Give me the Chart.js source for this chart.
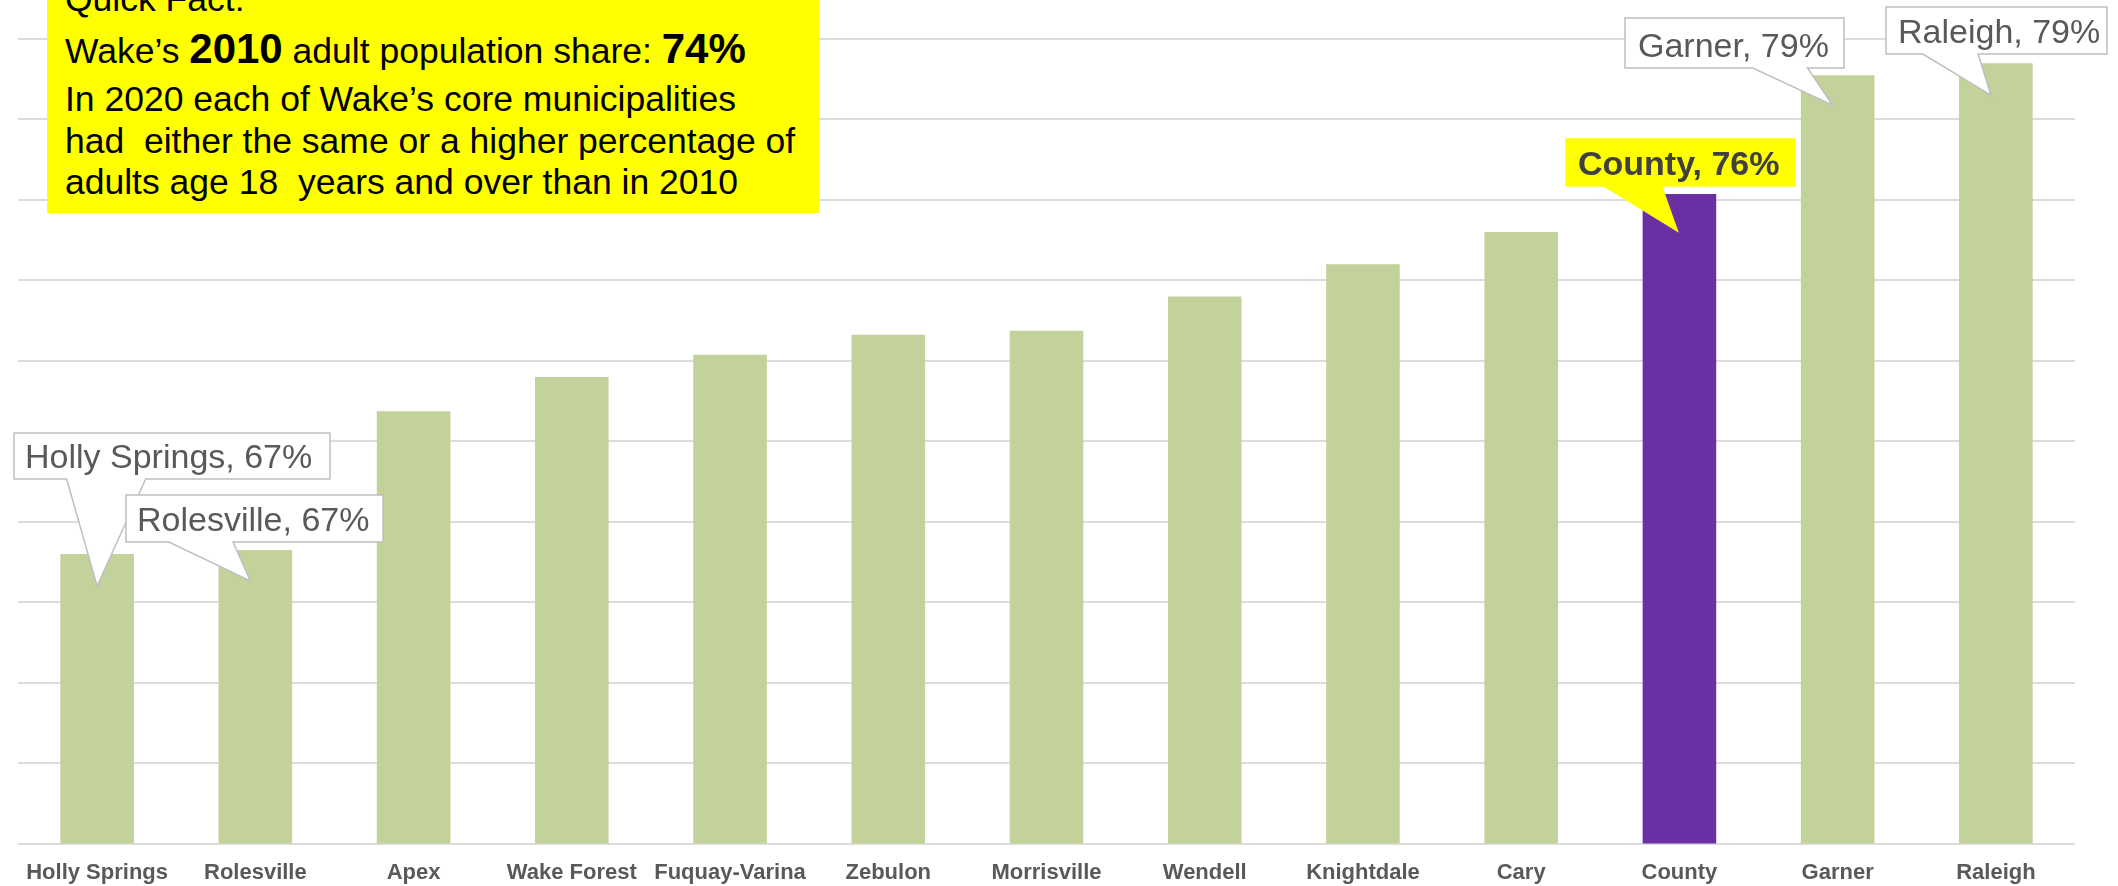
<!DOCTYPE html>
<html>
<head>
<meta charset="utf-8">
<script src="https://cdn.jsdelivr.net/npm/chart.js@4"></script>
<style>
html,body{margin:0;padding:0;background:#fff;}
#wrap{position:relative;width:2118px;height:886px;overflow:hidden;background:#fff;}
#c{position:absolute;left:0;top:0;}
#fact{position:absolute;left:0;top:0;}
</style>
</head>
<body>
<div id="wrap">
<canvas id="c" width="2118" height="886"></canvas>
<svg id="fact" width="2118" height="886" xmlns="http://www.w3.org/2000/svg" font-family="'Liberation Sans', Arial, sans-serif">
  <rect x="47" y="-40" width="772" height="253" fill="#ffff00"/>
  <text x="65" y="11" font-size="35.5" fill="#000">Quick Fact:</text>
  <text x="65" y="63" font-size="35.5" fill="#000">Wake’s <tspan font-weight="bold" font-size="42">2010</tspan> adult population share: <tspan font-weight="bold" font-size="42">74%</tspan></text>
  <text x="65" y="111" font-size="35.5" fill="#000">In 2020 each of Wake’s core municipalities</text>
  <text x="65" y="153" font-size="35.5" fill="#000">had&#160; either the same or a higher percentage of</text>
  <text x="65" y="194" font-size="35.5" fill="#000">adults age 18&#160; years and over than in 2010</text>
</svg>
</div>
<script>
// ---- data ----
const categories = ['Holly Springs','Rolesville','Apex','Wake Forest','Fuquay-Varina','Zebulon','Morrisville','Wendell','Knightdale','Cary','County','Garner','Raleigh'];
const adultShare2020 = [67.2, 67.3, 70.75, 71.6, 72.15, 72.65, 72.75, 73.6, 74.4, 75.2, 76.15, 79.1, 79.4];
const highlightCategory = 'County';
const calloutCategories = ['Holly Springs','Rolesville','County','Garner','Raleigh'];
const yAxisMin = 60, yAxisMax = 80, yAxisStep = 2;

// ---- styling / layout ----
const GREEN = '#c3d19a';
const PURPLE = '#6a2fa2';
const FONT = "'Liberation Sans', Arial, sans-serif";

const calloutLayout = {
  'Holly Springs': {box:[14,433,316,46], dx:0,  dy:32, textX:25,  fill:'#ffffff', stroke:'#bfbfbf', color:'#595959', bold:false},
  'Rolesville':    {box:[126,495,257,47], dx:-5, dy:31, textX:137, fill:'#ffffff', stroke:'#bfbfbf', color:'#595959', bold:false},
  'County':        {box:[1566,139,229,47], dx:-2, dy:37, textX:1578, fill:'#ffff00', stroke:'#ffff00', color:'#404040', bold:true},
  'Garner':        {box:[1625,18,219,50], dx:-5, dy:30, textX:1638, fill:'#ffffff', stroke:'#bfbfbf', color:'#595959', bold:false},
  'Raleigh':       {box:[1886,7,221,47], dx:-5, dy:32, textX:1898, fill:'#ffffff', stroke:'#bfbfbf', color:'#595959', bold:false}
};

const calloutPlugin = {
  id: 'callouts',
  afterDatasetsDraw(chart) {
    const ctx = chart.ctx;
    const meta = chart.getDatasetMeta(0);
    calloutCategories.forEach(cat => {
      const i = categories.indexOf(cat);
      const bar = meta.data[i];
      const L = calloutLayout[cat];
      const [x, y, w, h] = L.box;
      const tx = bar.x + L.dx, ty = bar.y + L.dy;
      const left = tx < x + w / 2;
      const bx1 = x + w * (left ? 2 : 7) / 12;
      const bx2 = x + w * (left ? 5 : 10) / 12;
      ctx.save();
      ctx.beginPath();
      ctx.moveTo(x, y);
      ctx.lineTo(x + w, y);
      ctx.lineTo(x + w, y + h);
      ctx.lineTo(bx2, y + h);
      ctx.lineTo(tx, ty);
      ctx.lineTo(bx1, y + h);
      ctx.lineTo(x, y + h);
      ctx.closePath();
      ctx.fillStyle = L.fill;
      ctx.fill();
      ctx.lineWidth = 1.5;
      ctx.strokeStyle = L.stroke;
      ctx.stroke();
      ctx.fillStyle = L.color;
      ctx.font = (L.bold ? 'bold ' : '') + '34px ' + FONT;
      ctx.textBaseline = 'alphabetic';
      ctx.textAlign = 'left';
      const label = cat + ', ' + Math.round(adultShare2020[i]) + '%';
      ctx.fillText(label, L.textX, y + h - 11);
      ctx.restore();
    });
  }
};

new Chart(document.getElementById('c'), {
  type: 'bar',
  data: {
    labels: categories,
    datasets: [{
      data: adultShare2020,
      backgroundColor: categories.map(c => c === highlightCategory ? PURPLE : GREEN),
      borderWidth: 0,
      barPercentage: 0.465,
      categoryPercentage: 1.0
    }]
  },
  options: {
    responsive: false,
    animation: false,
    devicePixelRatio: 1,
    layout: { padding: { left: 18, right: 43, top: 39, bottom: -16 } },
    plugins: { legend: { display: false }, tooltip: { enabled: false }, title: { display: false } },
    scales: {
      x: {
        grid: { display: false, drawTicks: false },
        border: { display: false },
        ticks: { color: '#595959', font: { family: FONT, size: 22, weight: 'bold' }, padding: 16, maxRotation: 0, autoSkip: false }
      },
      y: {
        min: yAxisMin, max: yAxisMax,
        ticks: { display: false, stepSize: yAxisStep },
        grid: { color: '#dcdcdc', lineWidth: 2, drawTicks: false },
        border: { display: false }
      }
    }
  },
  plugins: [calloutPlugin]
});
</script>
</body>
</html>
